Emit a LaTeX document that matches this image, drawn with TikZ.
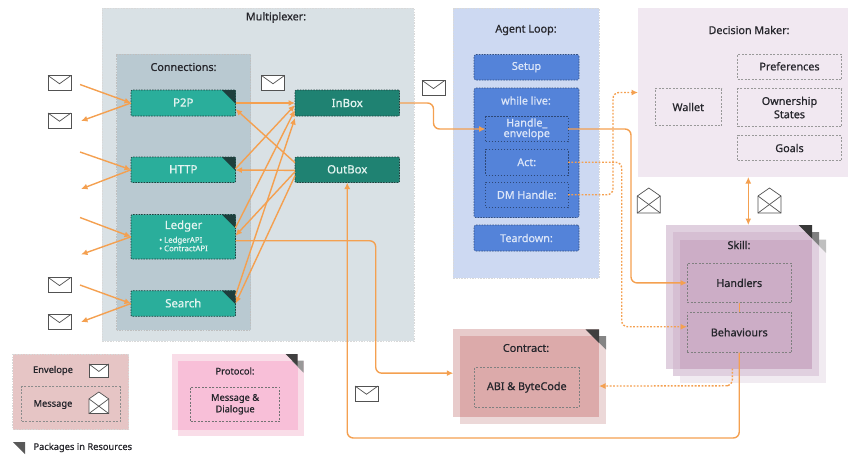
\documentclass[tikz,border=0pt]{standalone}
\usepackage{fontspec}
\setmainfont[FakeBold=0.7]{Noto Sans}
\usetikzlibrary{arrows.meta,calc}
\definecolor{mux}{HTML}{D9E1E5}
\definecolor{conn}{HTML}{B9C9D1}
\definecolor{teal1}{HTML}{2AAE9B}
\definecolor{teal2}{HTML}{1F8272}
\definecolor{cornerd}{HTML}{1E3F3D}
\definecolor{bluebg}{HTML}{CDD9F2}
\definecolor{blue1}{HTML}{5483D9}
\definecolor{dmbg}{HTML}{F1E8F1}
\definecolor{orng}{HTML}{F4A050}
\definecolor{ink}{HTML}{26262C}
\definecolor{tealtxt}{HTML}{E3F4F0}
\definecolor{bluetxt}{HTML}{DCE6F8}
\definecolor{skA}{HTML}{F1EBF1}
\definecolor{skB}{HTML}{E0D0DF}
\definecolor{skC}{HTML}{D6BFD3}
\definecolor{skD}{HTML}{CCADC6}
\definecolor{cnA}{HTML}{E8CBCB}
\definecolor{cnB}{HTML}{ECD8D8}
\definecolor{cnC}{HTML}{DCAAAA}
\definecolor{prA}{HTML}{F9DDE8}
\definecolor{prC}{HTML}{F8BFD8}
\definecolor{legbg}{HTML}{E6C5C5}
\newcommand{\up}[1]{\raisebox{1pt}{#1}}
\tikzset{
  every node/.style={inner sep=0pt,outer sep=0pt,text=ink,font=\fontsize{10.8}{11.8}\selectfont,align=center},
  bigbox/.style={draw=#1,dash pattern=on 1.5pt off 1.2pt,line width=.5pt},
  tealbox/.style={fill=teal1,draw=cornerd,dash pattern=on 1.5pt off 1.2pt,line width=.7pt,rounded corners=1pt,text=tealtxt,font=\fontsize{11.4}{12}\selectfont},
  boxbox/.style={fill=teal2,draw=cornerd,dash pattern=on 1.5pt off 1.2pt,line width=.6pt,rounded corners=1pt,text=tealtxt,font=\fontsize{11.4}{12}\selectfont},
  blubox/.style={fill=blue1,draw=blue1!60!black,dash pattern=on 1.5pt off 1.2pt,line width=.6pt,rounded corners=1.5pt,text=bluetxt},
  blusub/.style={draw=blue1!55!black,dash pattern=on 1.5pt off 1.5pt,line width=.5pt,text=bluetxt,font=\fontsize{10.8}{10.5}\selectfont},
  greydash/.style={draw=#1,dash pattern=on 2pt off 1.5pt,line width=.6pt},
  greydash/.default={black!40},
  link/.style={draw=orng,line width=1.4pt,rounded corners=6pt,-{Latex[length=6.5pt,width=6pt]}},
  plainlink/.style={draw=orng,line width=1.4pt,rounded corners=6pt},
  dotlink/.style={draw=orng,line width=1.4pt,dash pattern=on 1.8pt off 1.6pt,rounded corners=6pt,-{Latex[length=6.5pt,width=6pt]}},
  envline/.style={draw=black!68,line width=.7pt,fill=white},
  crossl/.style={draw=black!68,line width=.7pt}
}
\newcommand{\pbox}[7][]{%
  \pgfmathsetmacro\cxx{(#3+#5)/2}\pgfmathsetmacro\cyy{(#4+#6)/2}%
  \pgfmathsetmacro\wwx{#5-#3}\pgfmathsetmacro\hhx{#6-#4}%
  \node[#1,minimum width=\wwx pt,minimum height=\hhx pt] (#2) at (\cxx,\cyy) {#7};}
\newcommand{\corner}[4]{%
  \fill[#1] ({#2-#4},#3) -- (#2,#3) -- (#2,{#3+#4}) -- cycle;}
\newcommand{\envc}[4]{%
  \draw[envline] (#1,#2) rectangle ({#1+#3},{#2+#4});
  \draw[crossl] (#1,#2) -- ({#1+#3/2},{#2+#4*.55}) -- ({#1+#3},#2);}
\newcommand{\envo}[4]{%
  \draw[envline] (#1,{#2+#4*.32}) -- ({#1+#3/2},#2) -- ({#1+#3},{#2+#4*.32}) -- ({#1+#3},{#2+#4}) -- (#1,{#2+#4}) -- cycle;
  \draw[crossl] (#1,{#2+#4*.32}) -- ({#1+#3},{#2+#4});
  \draw[crossl] ({#1+#3},{#2+#4*.32}) -- (#1,{#2+#4});}
\begin{document}
\begin{tikzpicture}[x=1pt,y=-1pt]
\useasboundingbox (0,0) rectangle (848,456);
% Multiplexer
\pbox[fill=mux,bigbox=black!15]{mux}{102}{8}{414}{341}{}
\node (muxt) at (276,17.5) {Multiplexer:};
\pbox[fill=conn,bigbox=black!25]{conns}{116.5}{54}{250.5}{330}{}
\node (connt) at (183.5,67) {Connections:};
\pbox[tealbox]{p2p}{131}{90}{235.5}{116}{\up{P2P}}
\pbox[tealbox]{http}{131}{157}{235.5}{182.5}{\up{HTTP}}
\pbox[tealbox]{ledger}{131}{214.5}{235.5}{259}{}
\pbox[tealbox]{search}{131}{290.7}{235.5}{316.3}{\up{Search}}
\node[text=tealtxt,font=\fontsize{11.4}{12}\selectfont] (ledgert) at (183.5,226) {Ledger};
\node[text=tealtxt,font=\fontsize{7.8}{9}\selectfont,align=left] (ledgerl) at (183.5,244) {• LedgerAPI\\[-.5pt]• ContractAPI};
\corner{cornerd}{235.5}{90}{13.5}
\corner{cornerd}{235.5}{157}{13.5}
\corner{cornerd}{235.5}{214.5}{13.5}
\corner{cornerd}{235.5}{290.7}{13.5}
\pbox[boxbox]{inbox}{295}{90}{399.5}{116}{InBox}
\pbox[boxbox]{outbox}{295}{157}{399.5}{182.5}{\up{OutBox}}
% Agent loop
\pbox[fill=bluebg,bigbox=black!15]{agent}{453.3}{8}{599}{278}{}
\node (agentt) at (526,30) {Agent Loop:};
\pbox[blubox]{setup}{474}{54.5}{579}{80}{Setup}
\pbox[blubox]{while}{474}{88}{579}{217.5}{}
\node[text=bluetxt] (whilet) at (526,100.5) {while live:};
\pbox[blusub]{handle}{485.5}{116.5}{568}{141.5}{Handle\_\\envelope}
\pbox[blusub]{act}{485.5}{149.5}{568}{175}{Act:}
\pbox[blusub]{dmh}{485.5}{182}{568}{207.5}{DM Handle:}
\pbox[blubox]{teardown}{474}{225}{579}{251}{Teardown:}
% Decision maker
\pbox[fill=dmbg]{dm}{638}{8}{848}{177}{}
\node (dmt) at (749,30) {Decision Maker:};
\pbox[greydash]{wallet}{655}{88.5}{721.5}{125.5}{Wallet}
\pbox[greydash]{prefs}{737.5}{54}{841.5}{79.5}{\up{Preferences}}
\pbox[greydash]{owner}{737.5}{88.5}{841.5}{126.5}{Ownership\\[1.5pt]States}
\pbox[greydash]{goals}{737.5}{135.5}{841.5}{160.5}{Goals}
% Skill layers
\fill[skA] (680,239.5) rectangle (826,382.5);
\fill[skB] (673,232) rectangle (819,375.5);
\pbox[fill=skB]{skill}{666}{225}{812}{368.5}{}
\fill[skC] (673,232) rectangle (812,368.5);
\fill[skD] (680,239.5) rectangle (812,368.5);
\corner{black!25}{826}{239.5}{13.5}
\corner{black!50}{819}{232}{13.5}
\corner{black!78}{812}{225}{13.5}
\node (skillt) at (739,245) {Skill:};
\pbox[greydash=black!50]{handlers}{687}{263.3}{791.5}{302.5}{Handlers}
\pbox[greydash=black!50]{behav}{687}{312}{791.5}{352.5}{Behaviours}
% Contract layers
\fill[cnB] (460,336) rectangle (606,424);
\pbox[fill=cnA]{contract}{453.3}{329.3}{599}{417}{}
\fill[cnC] (460,336) rectangle (599,417);
\corner{black!48}{606}{336}{13.5}
\corner{black!75}{599}{329.3}{13.5}
\node (contractt) at (526,348) {Contract:};
\pbox[greydash=black!50]{abi}{474.5}{367.5}{579}{407}{ABI \& ByteCode}
% Legend
\pbox[fill=legbg,bigbox=black!15]{legend}{12.5}{354}{128.7}{429.5}{}
\node[font=\fontsize{9.3}{10}\selectfont] (envt) at (53,370.5) {Envelope};
\pbox[greydash=black!45]{msgbox}{21.5}{386.7}{120.5}{421}{}
\node[font=\fontsize{9.3}{10}\selectfont] (msgt) at (53,404.5) {Message};
% Protocol layers
\fill[prA] (178.3,360.7) rectangle (303.7,435.7);
\pbox[fill=prA]{protocol}{172.3}{354}{297.7}{430}{}
\fill[prC] (178.3,360.7) rectangle (297.7,430);
\corner{black!40}{303.7}{360.7}{12}
\corner{black!75}{297.7}{354}{12}
\node[font=\fontsize{9.3}{10}\selectfont] (protocolt) at (235,371) {Protocol:};
\pbox[greydash=black!55,font=\fontsize{9.3}{11.5}\selectfont]{msgdlg}{190.5}{387}{279.7}{421.5}{Message \&\\Dialogue}
% Packages key
\fill[black!65] (13,442) -- (25,442) -- (25,454) -- cycle;
\node[font=\fontsize{9.3}{10}\selectfont,anchor=west] (packt) at (33.5,447.5) {Packages in Resources};
% Free ends of the outer arrows
\coordinate (inA) at (80,84.5);   \coordinate (outA) at (81,121);
\coordinate (inB) at (80,152);    \coordinate (outB) at (81,189);
\coordinate (inC) at (80,217.5);  \coordinate (outC) at (81,254.5);
\coordinate (inD) at (80,285);    \coordinate (outD) at (81,322);
\draw[link] (inA) -- (p2p.west);    \draw[link] (p2p.west) -- (outA);
\draw[link] (inB) -- (http.west);   \draw[link] (http.west) -- (outB);
\draw[link] (inC) -- (ledger.west); \draw[link] (ledger.west) -- (outC);
\draw[link] (inD) -- (search.west); \draw[link] (search.west) -- (outD);
% Mux crossings
\draw[link] (p2p.east) -- (inbox.west);
\draw[link] ([yshift=7pt]outbox.west) -- ([yshift=-6pt]p2p.east);
\draw[link] ([yshift=1pt]http.east) -- ([yshift=-2pt]inbox.west);
\draw[link] ([yshift=-.6pt]outbox.west) -- ([yshift=-.3pt]http.east);
\draw[link] ([yshift=9pt]ledger.east) -- ([yshift=-7pt]inbox.west);
\draw[link] ([yshift=-2pt]outbox.west) -- ([yshift=1pt]ledger.east);
\draw[link] ([yshift=8pt]search.east) -- ([yshift=-15pt]inbox.west);
\draw[link] ([yshift=-6pt]outbox.west) -- (search.east);
% Long connectors
\draw[link] (inbox.east) -- ++(34,0) |- (handle.west);
\draw[link] (handle.east) -- ++(63,0) |- (handlers.west);
\draw[dotlink] (act.east) -- ++(53.7,0) |- ([yshift=5.5pt]behav.west);
\draw[dotlink] (dmh.east) -- ++(45,0) |- (dm.west);
\draw[link] ([yshift=-4pt]ledger.east) -- ++(140.2,0) |- (contract.west);
\draw[link] (behav.south) -- ++(0,85.5) -| (outbox.south);
\draw[dotlink] ([xshift=-6.7pt]skill.south) -- ++(0,17.2) -- ++(-10,.1) -- ([yshift=-12.9pt]contract.east);
\draw[plainlink] (handlers.south) -- (behav.north);
\draw[draw=orng,line width=1.4pt,{Latex[length=6.5pt,width=6pt]}-{Latex[length=6.5pt,width=6pt]}] ([xshift=5.3pt]dm.south) -- ([xshift=9.3pt]skill.north);
% Envelopes
\envc{48}{75.5}{23}{15}
\envc{48}{113}{23}{15}
\envc{48}{277.3}{23}{15}
\envc{48}{314.3}{23}{15}
\envc{261.5}{75.5}{23}{15}
\envc{422}{80.3}{23}{15}
\envc{355}{386}{23}{15}
\envc{89}{364}{19.7}{13.5}
\envo{89}{392}{19.7}{21.5}
\envo{637.3}{188}{23}{25}
\envo{758}{188}{23}{25}
\end{tikzpicture}
\end{document}
